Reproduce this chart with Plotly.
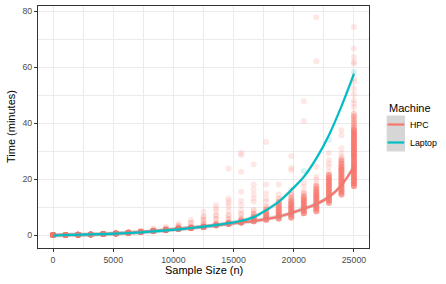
import plotly.graph_objects as go

# ---------------- data ----------------
sample_sizes = [0, 1042, 2083, 3125, 4167, 5208, 6250, 7292, 8333, 9375, 10417, 11458,
                12500, 13542, 14583, 15625, 16667, 17708, 18750, 19792, 20833, 21875,
                22917, 23958, 25000]

# HPC: per sample size, observed times (minutes) and number of runs at that time
hpc_times = [
    [0.0], [0.05], [0.1], [0.2], [0.35], [0.55],
    [0.8, 1.1],
    [1.1, 1.5],
    [1.4, 1.9, 2.4],
    [1.8, 2.3, 3.0],
    [2.2, 2.7, 3.3, 4.1],
    [2.5, 3.0, 4.4, 5.4],
    [2.9, 3.4, 4.2, 5.4, 6.5, 8.3],
    [3.5, 4.1, 5.7, 7.1, 8.6, 9.5, 10.7],
    [4.0, 4.6, 5.7, 7.1, 8.6, 10.1, 11.3, 12.1, 13.1, 23.8],
    [4.5, 5.3, 5.9, 7.5, 8.9, 10.7, 12.3, 15.5, 22.6, 28.6, 29.4],
    [4.9, 5.8, 6.6, 7.6, 8.9, 11.9, 13.1, 14.5, 16.3, 18.1, 25.2],
    [5.5, 6.4, 7.3, 8.2, 9.2, 10.1, 11.9, 13.1, 14.9, 18.1, 33.3],
    [5.9, 6.9, 7.9, 8.9, 9.9, 10.8, 11.8, 13.0, 14.5, 18.1],
    [6.3, 7.3, 8.3, 9.3, 10.3, 11.3, 12.3, 13.2, 14.3, 14.9, 16.1, 23.2, 24.0, 28.2],
    [7.8, 8.8, 9.8, 10.8, 11.8, 12.8, 13.8, 14.9, 15.5, 17.3, 18.7, 40.8, 47.8],
    [8.5, 9.5, 10.5, 11.5, 12.5, 13.5, 14.5, 15.5, 16.5, 17.5, 18.5, 19.9, 20.8, 24.4,
     62.1, 77.9],
    [11.5, 12.5, 13.5, 14.5, 15.5, 16.5, 17.5, 18.5, 19.5, 20.5, 21.5, 22.6, 24.4, 25.6,
     26.8, 29.2],
    [14.5, 15.5, 16.5, 17.5, 18.5, 19.5, 20.5, 21.5, 22.5, 23.5, 24.5, 25.5, 26.5, 27.3,
     28.0, 29.2, 31.0, 35.7, 37.5],
    [17.5, 18.5, 19.5, 20.5, 21.5, 22.5, 23.5, 24.5, 25.5, 26.5, 27.5, 28.5, 29.5, 30.5,
     31.5, 32.5, 33.5, 34.5, 35.5, 36.5, 37.5, 38.5, 39.5, 40.5, 41.5, 42.5, 43.5, 45.8,
     47.0, 48.2, 50.3, 52.4, 54.8, 56.0, 61.3, 61.9, 63.7, 66.7, 74.4],
]
hpc_runs = [
    [30], [30], [30], [30], [30], [30],
    [28, 1],
    [26, 2],
    [25, 2, 1],
    [24, 3, 1],
    [22, 3, 2, 1],
    [20, 3, 2, 1],
    [18, 3, 2, 2, 2, 1],
    [16, 3, 2, 2, 1, 1, 1],
    [15, 4, 2, 2, 1, 1, 1, 1, 1, 1],
    [14, 5, 2, 2, 1, 1, 1, 1, 1, 1, 1],
    [9, 8, 5, 3, 2, 1, 1, 1, 1, 1, 1],
    [8, 8, 6, 4, 3, 2, 1, 1, 1, 1, 1],
    [7, 7, 7, 7, 6, 5, 3, 2, 1, 1],
    [7, 7, 7, 7, 7, 6, 5, 3, 2, 1, 1, 1, 1, 1],
    [7, 7, 7, 7, 7, 6, 5, 2, 1, 1, 1, 1, 1],
    [6, 7, 7, 7, 7, 7, 7, 6, 5, 4, 1, 1, 1, 1, 1, 1],
    [6, 7, 7, 7, 7, 7, 7, 7, 7, 6, 5, 1, 1, 1, 1, 1],
    [6, 7, 7, 7, 7, 7, 7, 7, 7, 7, 6, 5, 4, 2, 1, 1, 1, 1, 1],
    [7, 8, 8, 8, 8, 8, 8, 8, 8, 8, 8, 8, 8, 8, 8, 8, 8, 8, 8, 8, 7, 4, 3, 3, 3, 3, 2, 1,
     1, 1, 1, 1, 1, 1, 1, 1, 1, 1, 1],
]

# Laptop observations
laptop_sizes = [0, 2083, 4167, 6250, 8333, 10417, 12500, 14583, 16667, 18750, 20833,
                22917, 25000]
laptop_times = [0.0, 0.12, 0.33, 0.72, 1.3, 2.05, 3.0, 4.2, 6.3, 11.5, 22.9, 34.0, 58.3]

# Smoothed trends
hpc_fit = [0.0, 0.05, 0.1, 0.2, 0.35, 0.55, 0.8, 1.1, 1.4, 1.8, 2.2, 2.6, 3.0, 3.5, 4.0,
           4.5, 5.0, 5.7, 6.6, 7.9, 9.4, 11.1, 13.6, 17.8, 24.4]
laptop_fit = [-0.2, 0.0, 0.1, 0.2, 0.33, 0.5, 0.72, 0.98, 1.3, 1.65, 2.05, 2.5, 3.0,
              3.55, 4.2, 5.0, 6.4, 8.9, 11.9, 16.1, 20.8, 27.4, 35.7, 46.0, 57.6]

machines = ["HPC", "Laptop"]
x_ticks = [0, 5000, 10000, 15000, 20000, 25000]
y_ticks = [0, 20, 40, 60, 80]

# ---------------- style ----------------
COL = {"HPC": "#F8766D", "Laptop": "#00BFC4"}
ALPHA = 0.17
BAND = 0.7
FONT = "Liberation Sans, Arial, Helvetica, sans-serif"

W, H = 446, 284
ML, MR, MT, MB = 38, 77, 6, 36
PW, PH = W - ML - MR, H - MT - MB


def px(x):
    return (x - ML) / PW


def py(y):
    return (H - MB - y) / PH


def rgba(hexc, a):
    h = hexc.lstrip("#")
    return "rgba(%d,%d,%d,%s)" % (int(h[0:2], 16), int(h[2:4], 16), int(h[4:6], 16), a)


fig = go.Figure()

# laptop points (drawn first, under HPC)
fig.add_trace(go.Scatter(
    x=laptop_sizes, y=laptop_times, mode="markers",
    marker=dict(size=6, color=rgba(COL["Laptop"], ALPHA), line=dict(width=0)),
    showlegend=False, hoverinfo="skip"))

# HPC points: each run is its own semi-transparent marker
hx, hy = [], []
for n, times, runs in zip(sample_sizes, hpc_times, hpc_runs):
    for t, r in zip(times, runs):
        for _ in range(r):
            hx.append(n)
            hy.append(t)
fig.add_trace(go.Scatter(
    x=hx, y=hy, mode="markers",
    marker=dict(size=6, color=rgba(COL["HPC"], ALPHA), line=dict(width=0)),
    showlegend=False, hoverinfo="skip"))

# confidence bands + fitted lines
for name, fit in (("HPC", hpc_fit), ("Laptop", laptop_fit)):
    upper = [v + BAND for v in fit]
    lower = [v - BAND for v in fit]
    fig.add_trace(go.Scatter(
        x=sample_sizes + sample_sizes[::-1], y=upper + lower[::-1],
        mode="lines", line=dict(width=0, shape="spline"), fill="toself",
        fillcolor="rgba(153,153,153,0.4)", showlegend=False, hoverinfo="skip"))
for name, fit in (("HPC", hpc_fit), ("Laptop", laptop_fit)):
    fig.add_trace(go.Scatter(
        x=sample_sizes, y=fit, mode="lines", name=name,
        line=dict(color=COL[name], width=2.2, shape="spline", smoothing=1.0),
        showlegend=False, hoverinfo="skip"))

axis_common = dict(
    showgrid=True, gridcolor="#EBEBEB", gridwidth=1.07,
    showline=True, mirror=True, linecolor="#333333", linewidth=1.1,
    ticks="outside", ticklen=3, tickcolor="#333333", tickwidth=1.07,
    tickfont=dict(family=FONT, size=8.8, color="#4D4D4D"),
    zeroline=False,
)

fig.update_xaxes(range=[-1250, 26250], tickvals=x_ticks, ticktext=[str(v) for v in x_ticks],
                 minor=dict(tickvals=[2500, 7500, 12500, 17500, 22500], showgrid=True,
                            gridcolor="#EBEBEB", gridwidth=0.55, ticks=""),
                 **axis_common)
fig.update_yaxes(range=[-4.64, 81.9], tickvals=y_ticks, ticktext=[str(v) for v in y_ticks],
                 minor=dict(tickvals=[10, 30, 50, 70], showgrid=True,
                            gridcolor="#EBEBEB", gridwidth=0.55, ticks=""),
                 **axis_common)

annotations = [
    dict(text="Sample Size (n)", x=px(204), y=py(270), xref="paper", yref="paper",
         showarrow=False, font=dict(family=FONT, size=11, color="#000000"),
         xanchor="center", yanchor="middle"),
    dict(text="Time (minutes)", x=px(11), y=py(127), xref="paper", yref="paper",
         showarrow=False, textangle=-90, font=dict(family=FONT, size=11, color="#000000"),
         xanchor="center", yanchor="middle"),
    dict(text="Machine", x=px(386.5), y=py(107.5), xref="paper", yref="paper",
         showarrow=False, font=dict(family=FONT, size=11, color="#000000"),
         xanchor="left", yanchor="middle"),
]
shapes = [
    dict(type="rect", xref="paper", yref="paper", x0=px(386.7), x1=px(405),
         y0=py(115.5), y1=py(151.5), fillcolor="#D6D6D6", line=dict(width=0), layer="above"),
]
key_y = [124.5, 142.5]
for name, ky in zip(machines, key_y):
    shapes.append(dict(type="line", xref="paper", yref="paper", x0=px(387.5), x1=px(404.2),
                       y0=py(ky), y1=py(ky), line=dict(color=COL[name], width=2.2),
                       layer="above"))
    annotations.append(dict(text=name, x=px(407.5), y=py(ky + 0.5), xref="paper",
                            yref="paper", showarrow=False,
                            font=dict(family=FONT, size=8.8, color="#000000"),
                            xanchor="left", yanchor="middle"))

fig.update_layout(
    width=W, height=H, margin=dict(l=ML, r=MR, t=MT, b=MB, pad=0),
    paper_bgcolor="white", plot_bgcolor="white", showlegend=False,
    annotations=annotations, shapes=shapes,
    font=dict(family=FONT),
)

fig.write_html("out.html", config={"displayModeBar": False},
               post_script="document.body.style.margin='0';")
